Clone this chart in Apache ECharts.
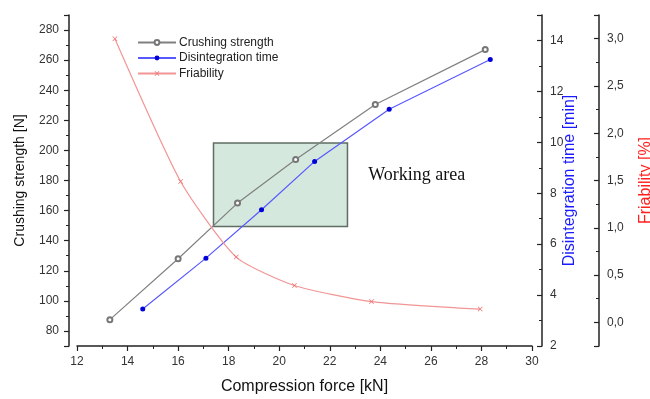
<!DOCTYPE html>
<html>
<head>
<meta charset="utf-8">
<script src="https://cdn.jsdelivr.net/npm/echarts@6/dist/echarts.min.js"></script>
<style>
  html, body { margin: 0; padding: 0; background: #fff; }
  #chart { width: 650px; height: 399px; }
</style>
</head>
<body>
<div id="chart"></div>
<script>
// values
const forceCS = [13.3, 16.0, 18.35, 20.65, 23.8, 28.15];
const crushingStrength = [87.5, 128, 165, 194, 230.5, 267];
const forceDT = [14.6, 17.1, 19.3, 21.4, 24.35, 28.35];
const disintegrationTime = [3.45, 5.45, 7.35, 9.25, 11.3, 13.25];
const forceFR = [13.5, 16.1, 18.3, 20.6, 23.65, 27.95];
const friability = [3.0, 1.49, 0.69, 0.39, 0.22, 0.14];
// working area box: [force from, force to], [strength from, strength to]
const workForce = [17.4, 22.7];
const workStrength = [149.5, 205];

const font = "Arial, 'Liberation Sans', sans-serif";
const pair = (xs, ys) => xs.map((x, i) => [x, ys[i]]);
const comma = (v) => v.toFixed(1).replace(".", ",");

const axisBase = {
  axisLine: { show: true, onZero: false, lineStyle: { color: "#222", width: 1.5 } },
  axisTick: { show: true, length: 5, lineStyle: { color: "#222", width: 1.2 } },
  minorTick: { show: true, splitNumber: 2, length: 3, lineStyle: { color: "#222", width: 1 } },
  splitLine: { show: false },
  axisLabel: { color: "#333", fontSize: 12, fontFamily: font },
  nameTextStyle: { fontSize: 14, fontFamily: font },
};

const chart = echarts.init(document.getElementById("chart"));
chart.setOption({
  animation: false,
  grid: { left: 77, right: 118, top: 15, bottom: 53, containLabel: false, outerBoundsMode: "none" },
  legend: {
    orient: "vertical",
    left: 137,
    top: 36,
    padding: 0,
    itemWidth: 38,
    itemHeight: 6,
    itemGap: 2.5,
    textStyle: { fontSize: 12, fontFamily: font, color: "#222", lineHeight: 13, padding: [0, 0, 0, -2] },
    data: ["Crushing strength", "Disintegration time", "Friability"],
  },
  xAxis: {
    ...axisBase,
    type: "value",
    min: 12,
    max: 30,
    interval: 2,
    name: "Compression force [kN]",
    nameLocation: "middle",
    nameGap: 33,
    nameTextStyle: { ...axisBase.nameTextStyle, fontSize: 16, color: "#111" },
    axisLabel: { ...axisBase.axisLabel, margin: 10 },
  },
  yAxis: [
    {
      ...axisBase,
      type: "value",
      position: "left",
      offset: 8,
      min: 70,
      max: 290,
      splitNumber: 11,
      name: "Crushing strength [N]",
      nameLocation: "middle",
      nameGap: 42,
      nameTextStyle: { ...axisBase.nameTextStyle, color: "#111" },
      axisLabel: { ...axisBase.axisLabel, margin: 10, showMinLabel: false, showMaxLabel: false },
    },
    {
      ...axisBase,
      type: "value",
      position: "right",
      offset: 10,
      min: 2,
      max: 15,
      interval: 2,
      name: "Disintegration time [min]",
      nameLocation: "middle",
      nameGap: 20,
      nameMoveOverlap: false,
      nameTextStyle: { ...axisBase.nameTextStyle, fontSize: 16, color: "#1a1aff" },
      axisTick: { ...axisBase.axisTick, inside: true },
      axisLabel: { ...axisBase.axisLabel, margin: 8, showMaxLabel: false },
    },
    {
      ...axisBase,
      type: "value",
      position: "right",
      offset: 67,
      min: -0.25,
      max: 3.25,
      splitNumber: 7,
      name: "Friability [%]",
      nameLocation: "middle",
      nameGap: 39,
      nameMoveOverlap: false,
      nameTextStyle: { ...axisBase.nameTextStyle, fontSize: 16, color: "#ff2020" },
      axisTick: { ...axisBase.axisTick, inside: true },
      axisLabel: {
        ...axisBase.axisLabel,
        margin: 8,
        showMinLabel: false,
        showMaxLabel: false,
        formatter: comma,
      },
    },
  ],
  series: [
    {
      name: "Crushing strength",
      type: "line",
      yAxisIndex: 0,
      data: pair(forceCS, crushingStrength),
      symbol: "emptyCircle",
      symbolSize: 5,
      itemStyle: { color: "#777", borderWidth: 1 },
      lineStyle: { color: "#808080", width: 1.2 },
      z: 3,
      markArea: {
        silent: true,
        itemStyle: {
          color: "rgba(170,210,188,0.5)",
          borderColor: "#5f6e63",
          borderWidth: 1.5,
        },
        label: {
          show: true,
          position: "right",
          distance: 20,
          offset: [0, -9],
          color: "#111",
          fontSize: 18,
          fontFamily: "'Liberation Serif', 'Times New Roman', serif",
        },
        data: [[
          { name: "Working area", coord: [workForce[0], workStrength[1]] },
          { coord: [workForce[1], workStrength[0]] },
        ]],
      },
    },
    {
      name: "Disintegration time",
      type: "line",
      yAxisIndex: 1,
      data: pair(forceDT, disintegrationTime),
      symbol: "circle",
      symbolSize: 5,
      itemStyle: { color: "#0000d8" },
      lineStyle: { color: "#5858ff", width: 1.2 },
      z: 3,
    },
    {
      name: "Friability",
      type: "line",
      yAxisIndex: 2,
      data: pair(forceFR, friability),
      smooth: 0.2,
      symbol: "path://M1,0L5,4L9,0L10,1L6,5L10,9L9,10L5,6L1,10L0,9L4,5L0,1Z",
      symbolSize: 5,
      itemStyle: { color: "#f07070" },
      lineStyle: { color: "#f29595", width: 1.2 },
      z: 3,
    },
  ],
});
</script>
</body>
</html>
